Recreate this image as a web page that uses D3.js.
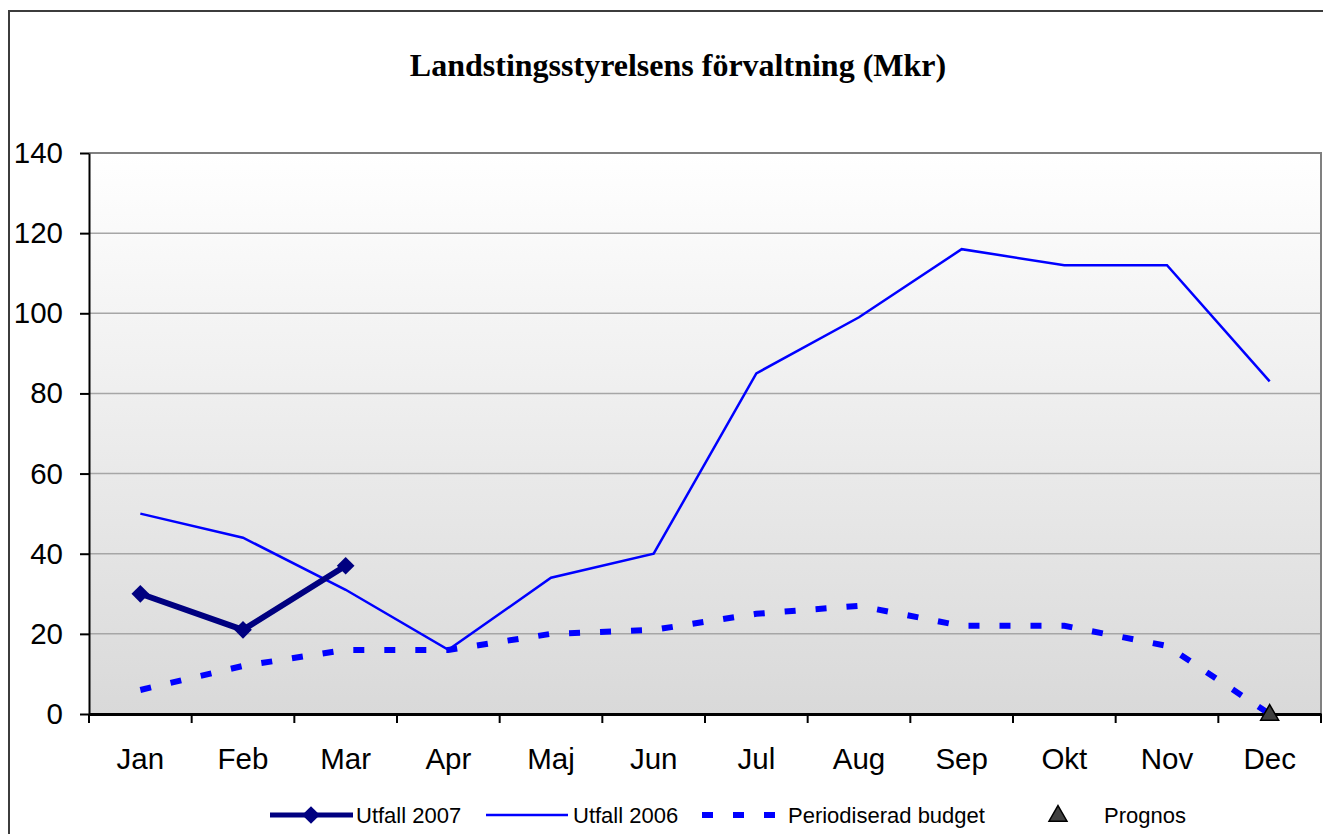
<!doctype html>
<html>
<head>
<script src="https://d3js.org/d3.v7.min.js"></script>
<style>
  body { margin: 0; background: #fff; }
  text { font-family: "Liberation Sans", Arial, sans-serif; }
</style>
</head>
<body>
<svg id="chart" width="1323" height="834"></svg>
<script>
// chart data
var months = ["Jan","Feb","Mar","Apr","Maj","Jun","Jul","Aug","Sep","Okt","Nov","Dec"]
var utfall2007 = [30, 21, 37]
var utfall2006 = [50, 44, 31, 16, 34, 40, 85, 99, 116, 112, 112, 83]
var budget = [6, 12, 16, 16, 20, 21, 25, 27, 22, 22, 17, 0]
var prognos = [{month: "Dec", value: 0}]
var yTicks = [0, 20, 40, 60, 80, 100, 120, 140]

var svg = d3.select("#chart")
var plotLeft = 89, plotRight = 1321, plotTop = 153, plotBottom = 714

var x = d3.scaleBand().domain(months).range([plotLeft, plotRight])
var y = d3.scaleLinear().domain([0, 140]).range([plotBottom, plotTop])
var cx = function(d) { return x(d) + x.bandwidth() / 2 }

// outer frame
svg.append("path").attr("d", "M9,834 V11 H1323").attr("fill", "none")
    .attr("stroke", "#3c3c3c").attr("stroke-width", 2)

// title
svg.append("text").attr("x", 678).attr("y", 76).attr("text-anchor", "middle")
    .style("font-family", "'Liberation Serif', 'Times New Roman', serif")
    .style("font-weight", "bold").style("font-size", "32px")
    .text("Landstingsstyrelsens förvaltning (Mkr)")

// plot background gradient
var grad = svg.append("defs").append("linearGradient").attr("id", "bg")
    .attr("x1", 0).attr("y1", 0).attr("x2", 0).attr("y2", 1)
grad.append("stop").attr("offset", "0%").attr("stop-color", "#ffffff")
grad.append("stop").attr("offset", "100%").attr("stop-color", "#d9d9d9")
svg.append("rect").attr("x", plotLeft).attr("y", plotTop).attr("width", plotRight - plotLeft)
    .attr("height", plotBottom - plotTop).attr("fill", "url(#bg)")

// gridlines
svg.append("g").selectAll("line").data(yTicks.filter(function(d) { return d > 0 && d < 140 }))
    .enter().append("line")
    .attr("x1", plotLeft).attr("x2", plotRight)
    .attr("y1", function(d) { return y(d) }).attr("y2", function(d) { return y(d) })
    .attr("stroke", "#a6a6a6").attr("stroke-width", 1.5)

// plot border top/right
svg.append("path").attr("d", "M" + plotLeft + "," + plotTop + " H" + plotRight + " V" + plotBottom)
    .attr("fill", "none").attr("stroke", "#808080").attr("stroke-width", 2)

// y axis
var yAxis = svg.append("g").attr("transform", "translate(" + plotLeft + ",0)")
    .call(d3.axisLeft(y).tickValues(yTicks).tickSize(9).tickPadding(17).tickSizeOuter(0))
yAxis.selectAll("text").style("font-size", "29.5px").attr("fill", "#000")
    .style("font-family", "'Liberation Sans', Arial, sans-serif")
yAxis.selectAll("line").attr("stroke", "#000").attr("stroke-width", 2)
yAxis.select(".domain").attr("stroke", "#000").attr("stroke-width", 2)

// x axis
var xAxis = svg.append("g").attr("transform", "translate(0," + plotBottom + ")")
    .call(d3.axisBottom(x).tickSize(0).tickPadding(34).tickSizeOuter(0))
xAxis.selectAll("text").style("font-size", "29.5px").attr("fill", "#000")
    .style("font-family", "'Liberation Sans', Arial, sans-serif")
xAxis.select(".domain").attr("stroke", "#000").attr("stroke-width", 3)
var bounds = months.map(function(d) { return x(d) }).concat([x.range()[1]])
xAxis.selectAll(".bnd").data(bounds).enter().append("line")
    .attr("x1", function(d) { return d }).attr("x2", function(d) { return d })
    .attr("y1", 0).attr("y2", 9).attr("stroke", "#000").attr("stroke-width", 2)

// lines
var line = d3.line().x(function(d, i) { return cx(months[i]) }).y(function(d) { return y(d) })

svg.append("path").datum(budget).attr("d", line).attr("fill", "none")
    .attr("stroke", "#0000ff").attr("stroke-width", 6).attr("stroke-dasharray", "11,20")

svg.append("path").datum(utfall2006).attr("d", line).attr("fill", "none")
    .attr("stroke", "#0000ff").attr("stroke-width", 2.5)

svg.append("path").datum(utfall2007).attr("d", line).attr("fill", "none")
    .attr("stroke", "#000080").attr("stroke-width", 6)

var diamond = d3.symbol().type(d3.symbolDiamond2).size(200)
svg.append("g").selectAll("path").data(utfall2007).enter().append("path")
    .attr("d", diamond)
    .attr("transform", function(d, i) { return "translate(" + cx(months[i]) + "," + y(d) + ")" })
    .attr("fill", "#000080")

var tri = d3.symbol().type(d3.symbolTriangle).size(140)
svg.append("g").selectAll("path").data(prognos).enter().append("path")
    .attr("d", tri)
    .attr("transform", function(d) { return "translate(" + cx(d.month) + "," + (y(d.value) + 1) + ")" })
    .attr("fill", "#404040").attr("stroke", "#000").attr("stroke-width", 1.5)

// legend
var lg = svg.append("g").style("font-size", "22px")
var ly = 815
lg.append("line").attr("x1", 270).attr("x2", 353).attr("y1", ly).attr("y2", ly)
    .attr("stroke", "#000080").attr("stroke-width", 5)
lg.append("path").attr("d", diamond).attr("transform", "translate(311," + ly + ")").attr("fill", "#000080")
lg.append("text").attr("x", 356).attr("y", ly + 8).text("Utfall 2007")

lg.append("line").attr("x1", 486).attr("x2", 568).attr("y1", ly).attr("y2", ly)
    .attr("stroke", "#0000ff").attr("stroke-width", 2.5)
lg.append("text").attr("x", 573).attr("y", ly + 8).text("Utfall 2006")

lg.append("line").attr("x1", 702).attr("x2", 776).attr("y1", ly).attr("y2", ly)
    .attr("stroke", "#0000ff").attr("stroke-width", 6).attr("stroke-dasharray", "11,20")
lg.append("text").attr("x", 788).attr("y", ly + 8).text("Periodiserad budget")

lg.append("path").attr("d", tri).attr("transform", "translate(1058," + (ly + 1) + ")")
    .attr("fill", "#404040").attr("stroke", "#000").attr("stroke-width", 1.5)
lg.append("text").attr("x", 1104).attr("y", ly + 8).text("Prognos")
</script>
</body>
</html>
